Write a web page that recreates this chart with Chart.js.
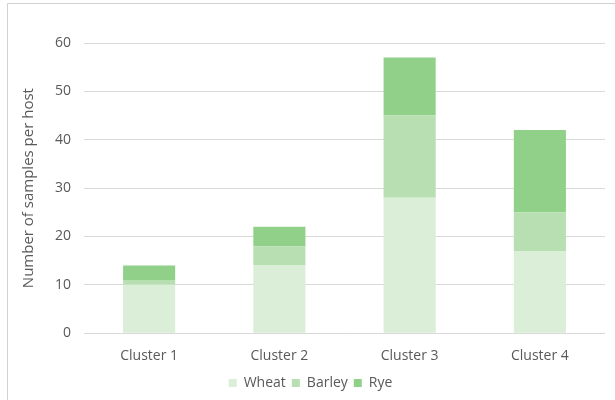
<!DOCTYPE html>
<html><head><meta charset="utf-8">
<script src="https://cdn.jsdelivr.net/npm/chart.js@4"></script>
<style>html,body{margin:0;padding:0;background:#fff;}#wrap{width:615px;height:400px;position:relative;}</style>
</head><body><div id="wrap"><canvas id="c" width="615" height="400"></canvas></div>
<script>
const categories = ["Cluster 1", "Cluster 2", "Cluster 3", "Cluster 4"];
const wheat = [10, 14, 28, 17];
const barley = [1, 4, 17, 8];
const rye = [3, 4, 12, 17];
const yTicks = [0, 10, 20, 30, 40, 50, 60];

const borderPlugin = {
  id: 'outerBorder',
  beforeDraw(chart) {
    const ctx = chart.ctx;
    ctx.save();
    ctx.fillStyle = '#fff';
    ctx.fillRect(0, 0, chart.width, chart.height);
    ctx.strokeStyle = '#d0d0d0';
    ctx.lineWidth = 1;
    ctx.beginPath();
    ctx.moveTo(7.5, chart.height);
    ctx.lineTo(7.5, 3.5);
    ctx.lineTo(chart.width, 3.5);
    ctx.stroke();
    ctx.restore();
  }
};

new Chart(document.getElementById('c'), {
  type: 'bar',
  data: {
    labels: categories,
    datasets: [
      { label: 'Wheat', data: wheat, backgroundColor: '#dbeed7' },
      { label: 'Barley', data: barley, backgroundColor: '#b7dfb1' },
      { label: 'Rye', data: rye, backgroundColor: '#91d089' }
    ]
  },
  options: {
    responsive: false,
    animation: false,
    layout: { padding: { left: 16, right: 10, top: 43, bottom: 0 } },
    datasets: { bar: { categoryPercentage: 1, barPercentage: 0.4 } },
    plugins: {
      legend: {
        position: 'bottom',
        labels: { boxWidth: 8, boxHeight: 8, padding: 6, color: '#595959', font: { family: 'Open Sans', size: 14 } }
      },
      tooltip: { enabled: false }
    },
    scales: {
      x: {
        stacked: true,
        grid: { display: false },
        border: { display: false },
        ticks: { color: '#595959', font: { family: 'Open Sans', size: 14 }, padding: 6 }
      },
      y: {
        stacked: true,
        min: 0, max: 60,
        afterBuildTicks(axis) { axis.ticks = yTicks.map(v => ({ value: v })); },
        grid: { color: '#d9d9d9', drawTicks: false },
        border: { display: false },
        ticks: { color: '#595959', font: { family: 'Open Sans', size: 14 }, padding: 13 },
        title: { display: true, text: 'Number of samples per host', color: '#595959', font: { family: 'Open Sans', size: 15 } }
      }
    }
  },
  plugins: [borderPlugin]
});
</script></body></html>
